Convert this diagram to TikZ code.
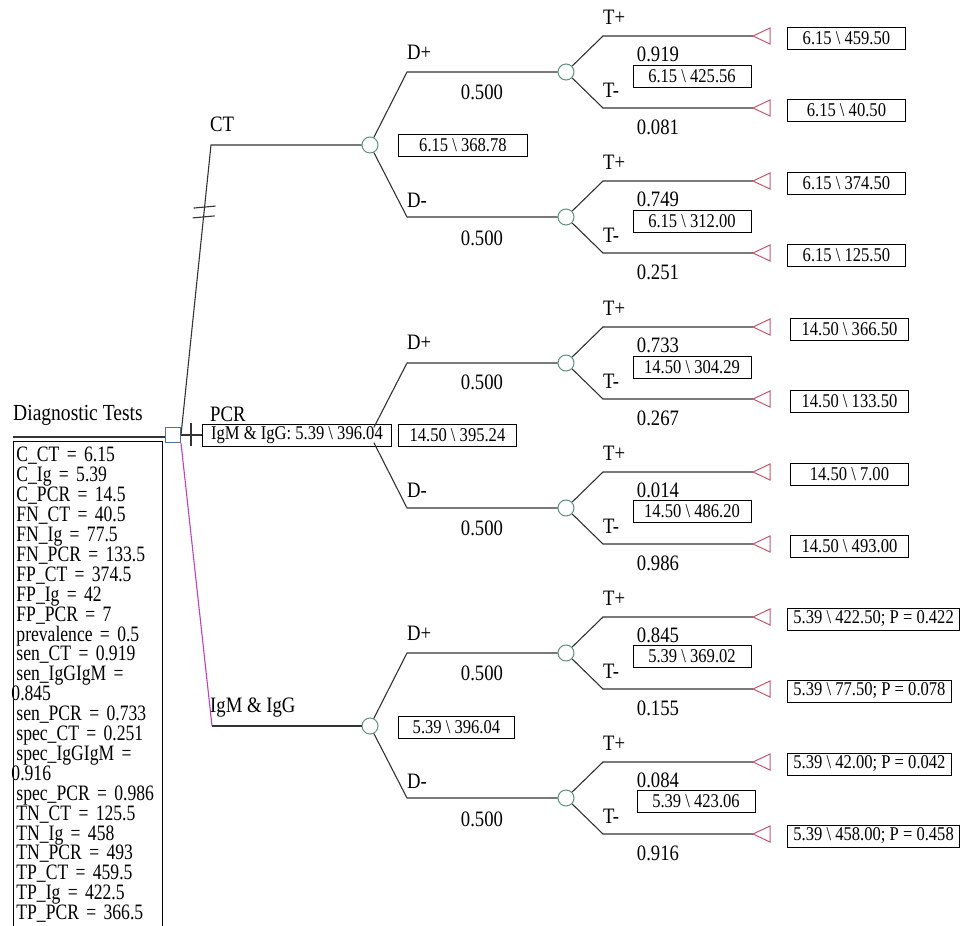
\documentclass[tikz,border=0pt]{standalone}
\usepackage{fontspec}
\setmainfont{Liberation Serif}[FakeStretch=0.85]
\newfontfamily\varfont{Liberation Serif}[FakeStretch=0.80]
\usepackage{tikz}
\usetikzlibrary{calc}

\definecolor{chancecol}{HTML}{5F8F7F}
\definecolor{deccol}{HTML}{4F7394}
\definecolor{termcol}{HTML}{C4566E}
\definecolor{linecol}{HTML}{333333}
\definecolor{igcol}{HTML}{C040C0}

\begin{document}
\begin{tikzpicture}[x=1pt,y=-1pt, font=\fontsize{22}{23}\selectfont,
  br/.style={draw=linecol,line width=1.1pt},
  igline/.style={draw=igcol,line width=1.1pt},
  chance/.style={circle,draw=chancecol,line width=1pt,fill=white,minimum size=16,inner sep=0pt},
  decbox/.style={rectangle,draw=deccol,line width=1pt,fill=white,minimum size=15,inner sep=0pt},
  valbox/.style={draw=black,line width=0.9pt,fill=white,font=\fontsize{19.5}{20}\selectfont,inner xsep=6,inner ysep=1,minimum height=22,minimum width=118},
  termbox/.style={valbox,anchor=west},
  varbox/.style={draw=black,line width=0.9pt,align=left,text width=143,minimum height=487,inner sep=3,font=\varfont\fontsize{22}{19.9}\selectfont},
  tri/.style={draw=termcol,line width=1pt,fill=white},
  lbl/.style={inner sep=0pt}]
 \useasboundingbox (0,0) rectangle (962,926);
 % root and variables
 \node[lbl,anchor=west,font=\fontsize{23}{24}\selectfont] (title) at (13,415) {Diagnostic Tests};
 \node[varbox,anchor=north west] (vars) at (13,441) {C\_CT = 6.15\\C\_Ig = 5.39\\C\_PCR = 14.5\\FN\_CT = 40.5\\FN\_Ig = 77.5\\FN\_PCR = 133.5\\FP\_CT = 374.5\\FP\_Ig = 42\\FP\_PCR = 7\\prevalence = 0.5\\sen\_CT = 0.919\\sen\_IgGIgM =\\\hspace*{-5pt}0.845\\sen\_PCR = 0.733\\spec\_CT = 0.251\\spec\_IgGIgM =\\\hspace*{-5pt}0.916\\spec\_PCR = 0.986\\TN\_CT = 125.5\\TN\_Ig = 458\\TN\_PCR = 493\\TP\_CT = 459.5\\TP\_Ig = 422.5\\TP\_PCR = 366.5};
 \node[decbox] (root) at (173,435) {};
 \draw[br] ([yshift=4pt]vars.north west) -- ([yshift=4pt]vars.north west -| root.west);
 % test branches
 \coordinate (ctk) at (211,145);
 \coordinate (igk) at (212,726);
 \node[chance] (ct) at (370,145) {};
 \node[chance] (pcr) at (370,435) {};
 \node[chance] (ig) at (370,726) {};
 \draw[br] (root.east) -- (ctk) -- (ct);
 \draw[br] (root.east) -- (pcr);
 \draw[igline] (root.south east) -- (igk);
 \draw[br] (igk) -- (ig);
 \draw[br] ($(root.east)!0.786!(ctk)$) ++(-11,1) -- ++(22,-2);
 \draw[br] ($(root.east)!0.752!(ctk)$) ++(-11,1) -- ++(22,-2);
 \draw[br] ($(root.east)+(10,-12)$) -- ($(root.east)+(10,11)$);
 \node[lbl,anchor=west] (lct) at (210,124) {CT};
 \node[lbl,anchor=west] (lpcr) at (210,414) {PCR};
 \node[lbl,anchor=west] (lig) at (210,708) {IgM \& IgG};
 \node[valbox,anchor=west,minimum width=189] (rootv) at (202,435) {IgM \& IgG: 5.39 \textbackslash\ 396.04};
 % disease branches
 \node[chance] (ctp) at (566,72) {};
 \node[chance] (ctn) at (566,217) {};
 \node[chance] (pcp) at (566,363) {};
 \node[chance] (pcn) at (566,508) {};
 \node[chance] (igp) at (566,653) {};
 \node[chance] (ign) at (566,798) {};
 \coordinate (ctpk) at (407,72);  \coordinate (ctnk) at (407,217);
 \coordinate (pcpk) at (407,363); \coordinate (pcnk) at (407,508);
 \coordinate (igpk) at (407,653); \coordinate (ignk) at (407,798);
 \draw[br] (ct) -- (ctpk) -- (ctp);
 \draw[br] (ct) -- (ctnk) -- (ctn);
 \draw[br] (pcr) -- (pcpk) -- (pcp);
 \draw[br] (pcr) -- (pcnk) -- (pcn);
 \draw[br] (ig) -- (igpk) -- (igp);
 \draw[br] (ig) -- (ignk) -- (ign);
 \node[valbox,anchor=west,minimum width=129] (ctv) at (398,145) {6.15 \textbackslash\ 368.78};
 \node[valbox,anchor=west] (pcrv) at (398,435) {14.50 \textbackslash\ 395.24};
 \node[valbox,anchor=west,minimum width=116] (igv) at (398,727) {5.39 \textbackslash\ 396.04};
 \foreach \y in {145,435,726} {
   \node[lbl,anchor=west] at (407,\y-93) {D+};
   \node[lbl,anchor=west] at (407,\y+55) {D-};
   \node[lbl] at (482,\y-53) {0.500};
   \node[lbl] at (482,\y+93) {0.500};
 }
 % CT, D+
 \coordinate (ctpa) at (603,36); \coordinate (ctpb) at (603,108);
 \coordinate (ctpA) at (753,36); \coordinate (ctpB) at (753,108);
 \draw[br] (ctp) -- (ctpa) -- (ctpA);
 \draw[br] (ctp) -- (ctpb) -- (ctpB);
 \node[lbl] at (658,54) {0.919}; \node[lbl] at (658,127) {0.081};
 \node[valbox] (ctpv) at (692,76) {6.15 \textbackslash\ 425.56};
 \node[termbox] (ctp1) at (787,38) {6.15 \textbackslash\ 459.50};
 \node[termbox] (ctp2) at (787,110) {6.15 \textbackslash\ 40.50};
 % CT, D-
 \coordinate (ctna) at (603,181); \coordinate (ctnb) at (603,253);
 \coordinate (ctnA) at (753,181); \coordinate (ctnB) at (753,253);
 \draw[br] (ctn) -- (ctna) -- (ctnA);
 \draw[br] (ctn) -- (ctnb) -- (ctnB);
 \node[lbl] at (658,199) {0.749}; \node[lbl] at (658,272) {0.251};
 \node[valbox] (ctnv) at (692,221) {6.15 \textbackslash\ 312.00};
 \node[termbox] (ctn1) at (787,183) {6.15 \textbackslash\ 374.50};
 \node[termbox] (ctn2) at (787,255) {6.15 \textbackslash\ 125.50};
 % PCR, D+
 \coordinate (pcpa) at (603,327); \coordinate (pcpb) at (603,399);
 \coordinate (pcpA) at (753,327); \coordinate (pcpB) at (753,399);
 \draw[br] (pcp) -- (pcpa) -- (pcpA);
 \draw[br] (pcp) -- (pcpb) -- (pcpB);
 \node[lbl] at (658,345) {0.733}; \node[lbl] at (658,418) {0.267};
 \node[valbox] (pcpv) at (692,367) {14.50 \textbackslash\ 304.29};
 \node[termbox] (pcp1) at (790,329) {14.50 \textbackslash\ 366.50};
 \node[termbox] (pcp2) at (790,401) {14.50 \textbackslash\ 133.50};
 % PCR, D-
 \coordinate (pcna) at (603,472); \coordinate (pcnb) at (603,544);
 \coordinate (pcnA) at (753,472); \coordinate (pcnB) at (753,544);
 \draw[br] (pcn) -- (pcna) -- (pcnA);
 \draw[br] (pcn) -- (pcnb) -- (pcnB);
 \node[lbl] at (658,490) {0.014}; \node[lbl] at (658,563) {0.986};
 \node[valbox] (pcnv) at (692,511) {14.50 \textbackslash\ 486.20};
 \node[termbox] (pcn1) at (790,474) {14.50 \textbackslash\ 7.00};
 \node[termbox] (pcn2) at (790,546) {14.50 \textbackslash\ 493.00};
 % IgM & IgG, D+
 \coordinate (igpa) at (603,617); \coordinate (igpb) at (603,689);
 \coordinate (igpA) at (753,617); \coordinate (igpB) at (753,689);
 \draw[br] (igp) -- (igpa) -- (igpA);
 \draw[br] (igp) -- (igpb) -- (igpB);
 \node[lbl] at (658,635) {0.845}; \node[lbl] at (658,708) {0.155};
 \node[valbox] (igpv) at (692,656) {5.39 \textbackslash\ 369.02};
 \node[termbox] (igp1) at (787,619) {5.39 \textbackslash\ 422.50; P = 0.422};
 \node[termbox] (igp2) at (787,691) {5.39 \textbackslash\ 77.50; P = 0.078};
 % IgM & IgG, D-
 \coordinate (igna) at (603,762); \coordinate (ignb) at (603,834);
 \coordinate (ignA) at (753,762); \coordinate (ignB) at (753,834);
 \draw[br] (ign) -- (igna) -- (ignA);
 \draw[br] (ign) -- (ignb) -- (ignB);
 \node[lbl] at (658,780) {0.084}; \node[lbl] at (658,853) {0.916};
 \node[valbox] (ignv) at (696,801) {5.39 \textbackslash\ 423.06};
 \node[termbox] (ign1) at (787,764) {5.39 \textbackslash\ 42.00; P = 0.042};
 \node[termbox] (ign2) at (787,836) {5.39 \textbackslash\ 458.00; P = 0.458};
 % test result labels and end nodes
 \foreach \y in {72,217,363,508,653,798} {
   \node[lbl,anchor=west] at (603,\y-55) {T+};
   \node[lbl,anchor=west] at (603,\y+18) {T-};
 }
 \foreach \t in {ctpA,ctpB,ctnA,ctnB,pcpA,pcpB,pcnA,pcnB,igpA,igpB,ignA,ignB}
   \draw[tri] (\t) -- ++(17,-8) -- ++(0,16) -- cycle;
\end{tikzpicture}
\end{document}
